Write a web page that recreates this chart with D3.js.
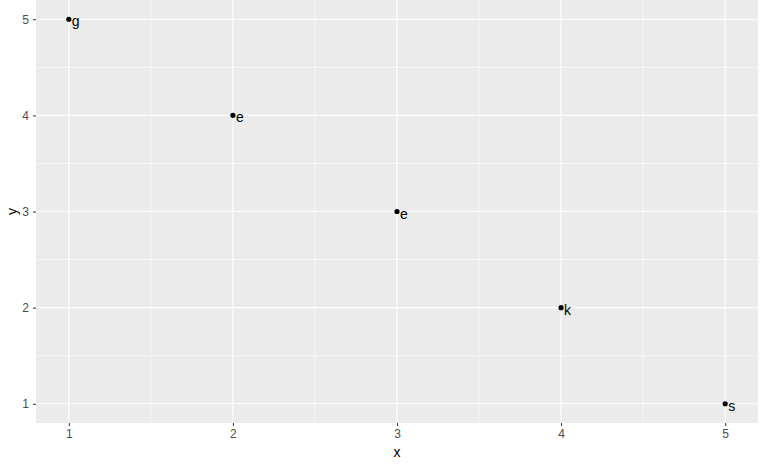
<!DOCTYPE html>
<html>
<head>
<meta charset="utf-8">
<script src="https://cdn.jsdelivr.net/npm/d3@7"></script>
<style>
body { margin: 0; background: white; }
text { font-family: "Liberation Sans", Arial, sans-serif; }
</style>
</head>
<body>
<div id="chart"></div>
<script>
// data
const xs = [1, 2, 3, 4, 5];
const ys = [5, 4, 3, 2, 1];
const labels = ["g", "e", "e", "k", "s"];
const ticks = [1, 2, 3, 4, 5];
const minorTicks = [1.5, 2.5, 3.5, 4.5];

const width = 768, height = 467;
const panel = {left: 36, right: 758, top: 0, bottom: 423};

const svg = d3.select("#chart").append("svg")
    .attr("width", width)
    .attr("height", height);

const x = d3.scaleLinear().domain([0.8, 5.2]).range([panel.left, panel.right]);
const y = d3.scaleLinear().domain([0.8, 5.2]).range([panel.bottom, panel.top]);

// panel background
svg.append("rect")
    .attr("x", panel.left).attr("y", panel.top)
    .attr("width", panel.right - panel.left)
    .attr("height", panel.bottom - panel.top)
    .attr("fill", "#ebebeb");

const grid = svg.append("g");
grid.selectAll(".minor-x").data(minorTicks).join("line")
    .attr("x1", d => x(d)).attr("x2", d => x(d))
    .attr("y1", panel.top).attr("y2", panel.bottom)
    .attr("stroke", "white").attr("stroke-width", 0.6);
grid.selectAll(".minor-y").data(minorTicks).join("line")
    .attr("y1", d => y(d)).attr("y2", d => y(d))
    .attr("x1", panel.left).attr("x2", panel.right)
    .attr("stroke", "white").attr("stroke-width", 0.6);
grid.selectAll(".major-x").data(ticks).join("line")
    .attr("x1", d => x(d)).attr("x2", d => x(d))
    .attr("y1", panel.top).attr("y2", panel.bottom)
    .attr("stroke", "white").attr("stroke-width", 1.2);
grid.selectAll(".major-y").data(ticks).join("line")
    .attr("y1", d => y(d)).attr("y2", d => y(d))
    .attr("x1", panel.left).attr("x2", panel.right)
    .attr("stroke", "white").attr("stroke-width", 1.2);

// axes
const xAxis = svg.append("g")
    .attr("transform", `translate(0,${panel.bottom})`)
    .call(d3.axisBottom(x).tickValues(ticks).tickFormat(d3.format("d")).tickSize(3).tickPadding(3));
const yAxis = svg.append("g")
    .attr("transform", `translate(${panel.left},0)`)
    .call(d3.axisLeft(y).tickValues(ticks).tickFormat(d3.format("d")).tickSize(3).tickPadding(4));
[xAxis, yAxis].forEach(a => {
    a.select(".domain").remove();
    a.selectAll(".tick line").attr("stroke", "#333333");
    a.selectAll(".tick text").attr("fill", "#4d4d4d")
        .style("font-size", "12px")
        .style("font-family", "Liberation Sans, Arial, sans-serif");
});

// axis titles
svg.append("text")
    .attr("x", (panel.left + panel.right) / 2)
    .attr("y", 457)
    .attr("text-anchor", "middle")
    .style("font-size", "14px")
    .attr("fill", "black")
    .text("x");
svg.append("text")
    .attr("transform", `translate(17,${(panel.top + panel.bottom) / 2}) rotate(-90)`)
    .attr("text-anchor", "middle")
    .style("font-size", "14px")
    .attr("fill", "black")
    .text("y");

// points and labels
const pts = xs.map((d, i) => ({x: d, y: ys[i], label: labels[i]}));
svg.selectAll("circle.pt").data(pts).join("circle")
    .attr("cx", d => x(d.x))
    .attr("cy", d => y(d.y))
    .attr("r", 2.6)
    .attr("fill", "black");
svg.selectAll("text.lab").data(pts).join("text")
    .attr("x", d => x(d.x) + 3)
    .attr("y", d => y(d.y) + 7)
    .style("font-size", "14px")
    .attr("fill", "black")
    .text(d => d.label);
</script>
</body>
</html>
